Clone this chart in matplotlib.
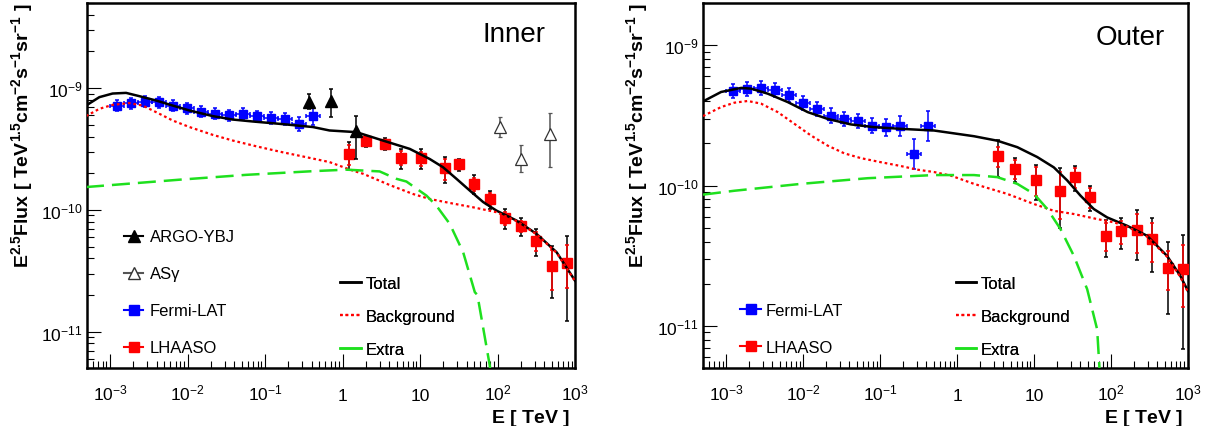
import numpy as np
import matplotlib.pyplot as plt
from matplotlib.lines import Line2D
from matplotlib.ticker import LogLocator, NullFormatter

plt.rcParams['font.family'] = ['Liberation Sans', 'DejaVu Sans']
plt.rcParams['mathtext.fontset'] = 'custom'
plt.rcParams['mathtext.rm'] = 'Liberation Sans'
plt.rcParams['mathtext.it'] = 'Liberation Sans:italic'
plt.rcParams['mathtext.bf'] = 'Liberation Sans:bold'

# E in TeV, E^2.5 * flux in TeV^1.5 cm^-2 s^-1 sr^-1

# Fermi-LAT (same energy bins for both regions)
fermi_e = [1.24e-3, 1.87e-3, 2.84e-3, 4.31e-3, 6.53e-3, 9.93e-3, 1.51e-2, 2.28e-2,
           3.44e-2, 5.21e-2, 7.91e-2, 0.119, 0.182, 0.274, 0.416]
fermi_half_bin = 0.09  # dex
fermi_inner = [7.19e-10, 7.53e-10, 7.76e-10, 7.67e-10, 7.19e-10, 6.85e-10, 6.42e-10, 6.15e-10,
               5.96e-10, 6.15e-10, 5.85e-10, 5.70e-10, 5.60e-10, 5.09e-10, 5.89e-10]
fermi_inner_err = [0.045, 0.045, 0.045, 0.045, 0.045, 0.045, 0.045, 0.045,
                   0.045, 0.045, 0.048, 0.05, 0.05, 0.06, 0.07]  # dex
fermi_outer = [4.72e-10, 4.85e-10, 4.96e-10, 4.77e-10, 4.40e-10, 3.90e-10, 3.53e-10, 3.16e-10,
               2.99e-10, 2.88e-10, 2.68e-10, 2.61e-10, 2.66e-10, 1.68e-10, 2.66e-10]
fermi_outer_err = [0.05, 0.05, 0.05, 0.05, 0.05, 0.05, 0.05, 0.05,
                   0.05, 0.05, 0.055, 0.06, 0.07, 0.105, 0.11]  # dex

# LHAASO
lhaaso_inner_e = [1.2, 1.99, 3.5, 5.75, 10.4, 21.3, 31.6, 49.4, 79.4, 124, 198, 312, 499, 793]
lhaaso_inner = [2.87e-10, 3.65e-10, 3.48e-10, 2.67e-10, 2.66e-10, 2.19e-10, 2.36e-10, 1.64e-10,
                1.23e-10, 8.55e-11, 7.35e-11, 5.60e-11, 3.45e-11, 3.69e-11]
lhaaso_inner_tot = [7.3e-11, 3.8e-11, 4.05e-11, 5.0e-11, 5.0e-11, 5.2e-11, 2.6e-11, 2.95e-11,
                    2.1e-11, 1.61e-11, 1.2e-11, 1.39e-11, 1.57e-11, 2.46e-11]
lhaaso_inner_stat = [5.5e-11, 2.5e-11, 2.5e-11, 3.5e-11, 3.5e-11, 4.2e-11, 1.8e-11, 2.0e-11,
                     1.5e-11, 1.0e-11, 0.8e-11, 1.0e-11, 1.25e-11, 1.42e-11]
lhaaso_outer_e = [3.44, 5.71, 10.7, 22.1, 33.9, 54.2, 85.6, 136, 216, 338, 545, 872]
lhaaso_outer = [1.625e-10, 1.32e-10, 1.10e-10, 9.13e-11, 1.15e-10, 8.26e-11, 4.40e-11, 4.72e-11,
                4.83e-11, 4.16e-11, 2.61e-11, 2.57e-11]
lhaaso_outer_tot = [4.75e-11, 2.5e-11, 3.08e-11, 4.17e-11, 2.3e-11, 1.64e-11, 1.29e-11, 1.16e-11,
                    1.89e-11, 1.74e-11, 1.39e-11, 1.88e-11]
lhaaso_outer_stat = [2.7e-11, 2.0e-11, 2.5e-11, 3.3e-11, 1.8e-11, 1.3e-11, 1.0e-11, 0.9e-11,
                     1.5e-11, 1.3e-11, 0.8e-11, 1.2e-11]

# ARGO-YBJ and AS-gamma (inner region only)
argo_e = [0.368, 0.708, 1.51]
argo_f = [7.76e-10, 7.91e-10, 4.43e-10]
argo_lo = [6.76e-10, 5.78e-10, 2.62e-10]
argo_hi = [8.98e-10, 9.87e-10, 5.95e-10]
asg_e = [109, 198, 474]
asg_f = [4.78e-10, 2.62e-10, 4.21e-10]
asg_lo = [3.96e-10, 2.06e-10, 2.24e-10]
asg_hi = [5.78e-10, 3.38e-10, 6.27e-10]

# model curves, inner
tot_in_e = [4.9e-4, 7.28e-4, 1.08e-3, 1.61e-3, 2.39e-3, 3.93e-3, 6.44e-3, 1.06e-2, 2.12e-2,
            3.84e-2, 6.95e-2, 0.154, 0.415, 0.679, 1.51, 3.33, 7.36, 13.3, 19.8, 29.5,
            43.9, 65.2, 97.0, 176, 319, 578, 1000]
tot_in_f = [7.19e-10, 8.43e-10, 9.03e-10, 9.14e-10, 8.59e-10, 7.91e-10, 7.19e-10, 6.55e-10, 5.89e-10,
            5.52e-10, 5.32e-10, 5.09e-10, 4.79e-10, 4.49e-10, 4.35e-10, 3.71e-10, 3.17e-10, 2.62e-10,
            2.24e-10, 1.80e-10, 1.44e-10, 1.16e-10, 9.86e-11, 8.17e-11, 6.35e-11, 4.49e-11, 2.62e-11]
bkg_in_e = [4.9e-4, 7.28e-4, 1.08e-3, 1.77e-3, 2.64e-3, 3.93e-3, 6.44e-3, 1.06e-2, 2.12e-2,
            3.84e-2, 7.69e-2, 0.154, 0.340, 0.679, 1.36, 1.84, 4.06, 8.13, 13.3, 24.2,
            48.4, 97.0, 176, 319, 578, 1000]
bkg_in_f = [5.89e-10, 6.76e-10, 7.29e-10, 7.53e-10, 7.19e-10, 6.35e-10, 5.42e-10, 4.79e-10, 4.13e-10,
            3.71e-10, 3.33e-10, 3.01e-10, 2.71e-10, 2.47e-10, 2.10e-10, 1.98e-10, 1.60e-10, 1.35e-10,
            1.23e-10, 1.14e-10, 1.05e-10, 9.57e-11, 8.09e-11, 6.30e-11, 4.45e-11, 2.60e-11]
ext_in_e = [4.9e-4, 7.85e-3, 5.71e-2, 0.415, 1.12, 3.01, 4.95, 6.67, 12.1, 16.3, 24.2,
            36.0, 50.9, 55.0, 79.4, 85.0]
ext_in_f = [1.54e-10, 1.77e-10, 1.94e-10, 2.08e-10, 2.14e-10, 2.07e-10, 1.80e-10, 1.71e-10,
            1.31e-10, 1.08e-10, 7.67e-11, 4.49e-11, 2.11e-11, 2.0e-11, 5.26e-12, 3.5e-12]

# model curves, outer
tot_out_e = [5.0e-4, 8.61e-4, 1.57e-3, 2.11e-3, 3.48e-3, 6.31e-3, 1.15e-2, 2.08e-2, 4.18e-2,
             8.38e-2, 0.186, 0.504, 1.66, 3.34, 6.07, 11.0, 18.1, 27.0, 40.2, 59.8, 89.3,
             162, 294, 536, 796, 1000]
tot_out_f = [3.98e-10, 4.65e-10, 4.97e-10, 4.91e-10, 4.52e-10, 3.94e-10, 3.34e-10, 2.99e-10, 2.73e-10,
             2.61e-10, 2.54e-10, 2.47e-10, 2.25e-10, 2.09e-10, 1.88e-10, 1.60e-10, 1.35e-10, 1.09e-10,
             8.49e-11, 6.82e-11, 5.94e-11, 5.18e-11, 4.40e-11, 3.16e-11, 2.28e-11, 1.78e-11]
bkg_out_e = [5.0e-4, 8.61e-4, 1.28e-3, 1.91e-3, 2.84e-3, 4.69e-3, 7.69e-3, 1.26e-2, 2.08e-2,
             3.42e-2, 5.64e-2, 0.102, 0.186, 0.306, 0.504, 0.828, 1.66, 4.51, 10.0, 18.1,
             33.0, 66.2, 109, 162, 294, 536, 796, 1000]
bkg_out_f = [3.13e-10, 3.63e-10, 3.90e-10, 4.01e-10, 3.84e-10, 3.34e-10, 2.76e-10, 2.28e-10, 1.93e-10,
             1.70e-10, 1.57e-10, 1.47e-10, 1.38e-10, 1.30e-10, 1.25e-10, 1.18e-10, 1.03e-10, 8.73e-11,
             7.40e-11, 6.62e-11, 6.28e-11, 5.78e-11, 5.48e-11, 5.11e-11, 4.34e-11, 3.12e-11, 2.24e-11,
             1.75e-11]
ext_out_e = [5.0e-4, 1.28e-3, 9.4e-3, 6.89e-2, 0.504, 1.66, 3.34, 6.07, 10.0, 14.9, 22.1,
             33.0, 49.1, 66.2, 71.0, 75.0]
ext_out_f = [8.63e-11, 9.2e-11, 1.03e-10, 1.13e-10, 1.19e-10, 1.19e-10, 1.15e-10, 1.03e-10,
             8.73e-11, 6.82e-11, 4.91e-11, 3.16e-11, 1.83e-11, 9.46e-12, 4.97e-12, 3.5e-12]

GREEN = '#1ee01e'


def dex_err(vals, dex):
    v = np.asarray(vals)
    d = np.asarray(dex)
    return [v * (1 - 10 ** -d), v * (10 ** d - 1)]


def style_axes(ax, ylim, yticks, ylabels, region):
    ax.set_xscale('log')
    ax.set_yscale('log')
    ax.set_xlim(5e-4, 1e3)
    ax.set_ylim(*ylim)
    xt = [1e-3, 1e-2, 1e-1, 1, 10, 1e2, 1e3]
    xl = ['$10^{-3}$', '$10^{-2}$', '$10^{-1}$', '1', '10', '$10^{2}$', '$10^{3}$']
    ax.set_xticks(xt, xl)
    ax.set_yticks(yticks, ylabels)
    ax.xaxis.set_minor_locator(LogLocator(base=10, subs=np.arange(2, 10), numticks=30))
    ax.yaxis.set_minor_locator(LogLocator(base=10, subs=np.arange(2, 10), numticks=30))
    ax.xaxis.set_minor_formatter(NullFormatter())
    ax.yaxis.set_minor_formatter(NullFormatter())
    ax.tick_params(which='both', direction='in', top=False, right=False, width=0.8,
                   labelsize=12.5)
    ax.tick_params(which='major', length=10)
    ax.tick_params(which='minor', length=5)
    ax.tick_params(axis='x', pad=22.5)
    ax.tick_params(axis='y', pad=3)
    for lab in ax.get_xticklabels():
        lab.set_verticalalignment('baseline')
    for s in ax.spines.values():
        s.set_linewidth(1.8)
    ax.text(0.99, -0.147, r'$\mathbf{E\ [\ TeV\ ]}$', transform=ax.transAxes,
            ha='right', va='baseline', fontsize=14)
    ax.text(-0.132, 1.0,
            r'$\mathbf{E^{2.5}Flux\ [\ TeV^{1.5}cm^{-2}s^{-1}sr^{-1}\ ]}$',
            transform=ax.transAxes, rotation=90, ha='center', va='top', fontsize=14)
    ax.text(0.94, 0.895, region, transform=ax.transAxes, ha='right', va='baseline',
            fontsize=20)


def draw_lhaaso(ax, e, f, tot, stat):
    ax.errorbar(e, f, yerr=tot, fmt='none', ecolor='black', elinewidth=1.1,
                capsize=1.5, capthick=1.1, zorder=3)
    ax.errorbar(e, f, yerr=stat, fmt='none', ecolor='red', elinewidth=1.1,
                capsize=1.5, capthick=1.1, zorder=4)
    ax.plot(e, f, 's', color='red', ms=6.5, zorder=5)


def draw_fermi(ax, f, err):
    ax.errorbar(fermi_e, f, yerr=dex_err(f, err),
                xerr=dex_err(fermi_e, [fermi_half_bin] * len(fermi_e)),
                fmt='s', color='blue', ms=6, elinewidth=1.1, capsize=1.5,
                capthick=1.1, zorder=5)


def draw_models(ax, te, tf, be, bf, ee, ef):
    ax.plot(te, tf, '-', color='black', lw=1.8, zorder=6)
    ax.plot(be, bf, color='red', lw=1.6, linestyle=(0, (1.2, 1.3)), zorder=6)
    ax.plot(ee, ef, color=GREEN, lw=1.8, linestyle=(0, (7.2, 3.2)), zorder=6)


def model_legend(ax, x0, y0, hl):
    h = [Line2D([], [], color='black', lw=1.8),
         Line2D([], [], color='red', lw=1.6, linestyle=(0, (1.2, 1.3))),
         Line2D([], [], color=GREEN, lw=1.8)]
    leg = ax.legend(h, ['Total', 'Background', 'Extra'], loc='upper left',
                    bbox_to_anchor=(x0, y0), frameon=False, fontsize=12,
                    handlelength=hl, handletextpad=0.3, labelspacing=1.08,
                    borderpad=0, borderaxespad=0)
    ax.add_artist(leg)


fig = plt.figure(figsize=(12.16, 4.27), dpi=100)
ax1 = fig.add_axes([0.0713, 0.1351, 0.4016, 0.8555])
ax2 = fig.add_axes([0.5781, 0.1351, 0.3988, 0.8555])

# ---- Inner ----
style_axes(ax1, (5e-12, 5e-9), [1e-11, 1e-10, 1e-9],
           ['$10^{-11}$', '$10^{-10}$', '$10^{-9}$'], 'Inner')
draw_fermi(ax1, fermi_inner, fermi_inner_err)
draw_lhaaso(ax1, lhaaso_inner_e, lhaaso_inner, lhaaso_inner_tot, lhaaso_inner_stat)
ax1.errorbar(argo_e, argo_f,
             yerr=[np.subtract(argo_f, argo_lo), np.subtract(argo_hi, argo_f)],
             fmt='^', color='black', ms=8, elinewidth=1.1, capsize=1.5,
             capthick=1.1, zorder=5)
ax1.errorbar(asg_e, asg_f,
             yerr=[np.subtract(asg_f, asg_lo), np.subtract(asg_hi, asg_f)],
             fmt='^', color='#555555', mfc='white', mec='#333333', ms=8.5, mew=0.9,
             elinewidth=1.1, capsize=1.5, capthick=1.1, zorder=5)
draw_models(ax1, tot_in_e, tot_in_f, bkg_in_e, bkg_in_f, ext_in_e, ext_in_f)

h1 = [Line2D([], [], color='black', lw=1.5, marker='^', ms=8),
      Line2D([], [], color='#555555', lw=1.5, marker='^', ms=8.5, mfc='white', mec='#333333'),
      Line2D([], [], color='blue', lw=1.5, marker='s', ms=6.5),
      Line2D([], [], color='red', lw=1.5, marker='s', ms=6.5)]
leg1 = ax1.legend(h1, ['ARGO-YBJ', 'AS\u03b3', 'Fermi-LAT', 'LHAASO'], loc='upper left',
                  bbox_to_anchor=(0.0764, 0.380), frameon=False, fontsize=12,
                  handlelength=1.14, handletextpad=0.42, labelspacing=1.32,
                  borderpad=0, borderaxespad=0)
ax1.add_artist(leg1)
model_legend(ax1, 0.5187, 0.2532, 1.26)

# ---- Outer ----
style_axes(ax2, (5e-12, 2e-9), [1e-11, 1e-10, 1e-9],
           ['$10^{-11}$', '$10^{-10}$', '$10^{-9}$'], 'Outer')
ax2.texts[1].set_x(-0.135)
ax2.texts[2].set_position((0.953, 0.888))
draw_fermi(ax2, fermi_outer, fermi_outer_err)
draw_lhaaso(ax2, lhaaso_outer_e, lhaaso_outer, lhaaso_outer_tot, lhaaso_outer_stat)
draw_models(ax2, tot_out_e, tot_out_f, bkg_out_e, bkg_out_f, ext_out_e, ext_out_f)

h2 = [Line2D([], [], color='blue', lw=1.5, marker='s', ms=6.5),
      Line2D([], [], color='red', lw=1.5, marker='s', ms=6.5)]
leg3 = ax2.legend(h2, ['Fermi-LAT', 'LHAASO'], loc='upper left',
                  bbox_to_anchor=(0.0763, 0.180), frameon=False, fontsize=12,
                  handlelength=1.29, handletextpad=0.25, labelspacing=1.33,
                  borderpad=0, borderaxespad=0)
ax2.add_artist(leg3)
model_legend(ax2, 0.521, 0.2532, 1.22)

fig.savefig('out.png', dpi=100)
